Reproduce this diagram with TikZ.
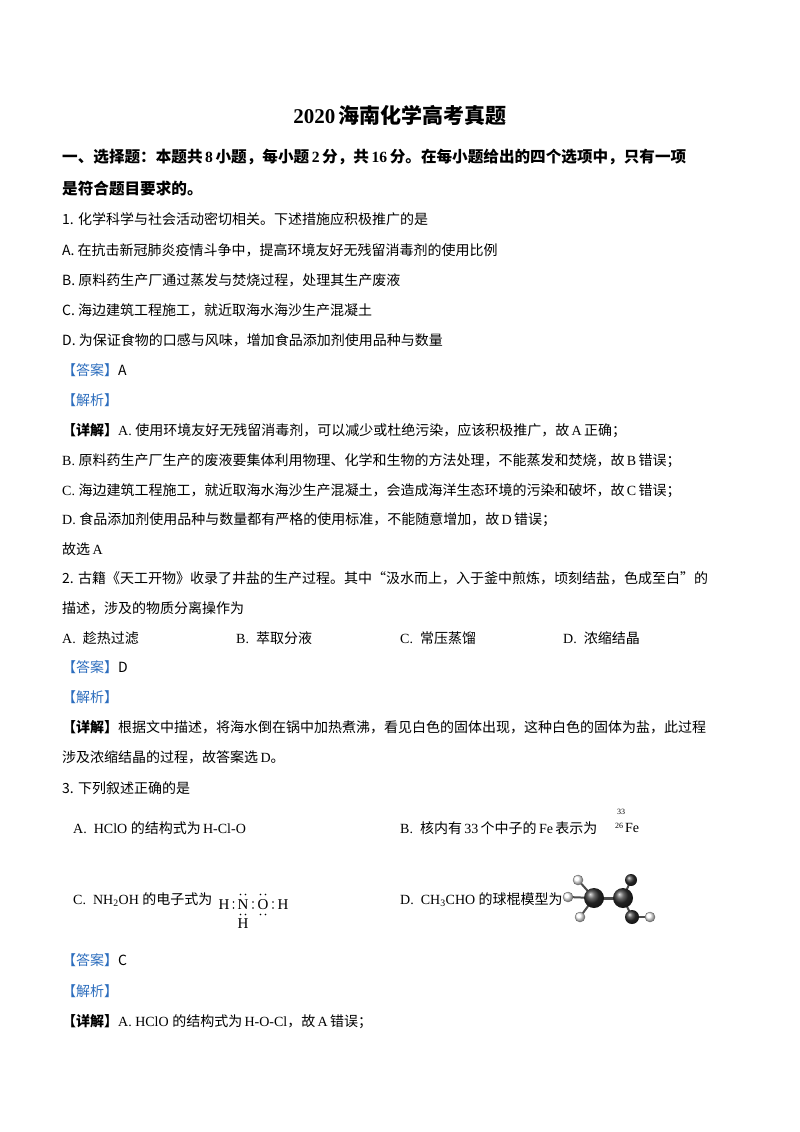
\documentclass[tikz,border=0pt]{standalone}
\usepackage{fontspec}
\setmainfont{Liberation Serif}
\newfontfamily\cjk{Noto Sans CJK SC}
\definecolor{ansblue}{RGB}{45,110,190}
\begin{document}
\begin{tikzpicture}[x=1pt,y=-1pt,
  txt/.style={anchor=west,inner sep=0pt,font=\fontsize{14}{16}\selectfont},
  blue/.style={text=ansblue},
  ball/.style={ball color=black!80,circle,inner sep=0pt},
  hball/.style={ball color=white,circle,inner sep=0pt,draw=black!60},
  el/.style={inner sep=0pt,font=\fontsize{15}{16}\selectfont},
  dot/.style={fill=black,circle,inner sep=0pt,minimum size=1.6pt}]
\useasboundingbox[fill=white] (0,0) rectangle (800,1132);
\node[inner sep=0pt,font=\fontsize{21}{24}\selectfont\bfseries] (title) at (400,115) {2020\,{\cjk 海南化学高考真题}};
\node[txt,font=\fontsize{15.6}{18}\selectfont\bfseries] (h1) at (62,157) {\cjk 一、选择题：本题共\,\rmfamily 8\,\cjk 小题，每小题\,\rmfamily 2\,\cjk 分，共\,\rmfamily 16\,\cjk 分。在每小题给出的四个选项中，只有一项};
\node[txt,font=\fontsize{15.6}{18}\selectfont\bfseries] (h2) at (62,189) {\cjk 是符合题目要求的。};
\node[txt] (q1) at (62,219) {\cjk 1. 化学科学与社会活动密切相关。下述措施应积极推广的是};
\node[txt] (q1a) at (62,250) {\cjk A. 在抗击新冠肺炎疫情斗争中，提高环境友好无残留消毒剂的使用比例};
\node[txt] (q1b) at (62,280) {\cjk B. 原料药生产厂通过蒸发与焚烧过程，处理其生产废液};
\node[txt] (q1c) at (62,310) {\cjk C. 海边建筑工程施工，就近取海水海沙生产混凝土};
\node[txt] (q1d) at (62,340) {\cjk D. 为保证食物的口感与风味，增加食品添加剂使用品种与数量};
\node[txt] (a1) at (62,370) {\cjk\textcolor{ansblue}{【答案】}A};
\node[txt,blue] (j1) at (62,400) {\cjk 【解析】};
\node[txt] (x1) at (62,431) {{\cjk\bfseries 【详解】}A. {\cjk 使用环境友好无残留消毒剂，可以减少或杜绝污染，应该积极推广，故}\,A\,{\cjk 正确；}};
\node[txt] (x1b) at (62,461) {B. {\cjk 原料药生产厂生产的废液要集体利用物理、化学和生物的方法处理，不能蒸发和焚烧，故}\,B\,{\cjk 错误；}};
\node[txt] (x1c) at (62,491) {C. {\cjk 海边建筑工程施工，就近取海水海沙生产混凝土，会造成海洋生态环境的污染和破坏，故}\,C\,{\cjk 错误；}};
\node[txt] (x1d) at (62,520) {D. {\cjk 食品添加剂使用品种与数量都有严格的使用标准，不能随意增加，故}\,D\,{\cjk 错误；}};
\node[txt] (g1) at (62,549) {{\cjk 故选}\,A};
\node[txt] (q2) at (62,578) {\cjk 2. 古籍《天工开物》收录了井盐的生产过程。其中“汲水而上，入于釜中煎炼，顷刻结盐，色成至白”的};
\node[txt] (q2b) at (62,608) {\cjk 描述，涉及的物质分离操作为};
\node[txt] (q2A) at (62,638) {A.\ \ {\cjk 趁热过滤}};
\node[txt] (q2B) at (236,638) {B.\ \ {\cjk 萃取分液}};
\node[txt] (q2C) at (400,638) {C.\ \ {\cjk 常压蒸馏}};
\node[txt] (q2D) at (563,638) {D.\ \ {\cjk 浓缩结晶}};
\node[txt] (a2) at (62,667) {\cjk\textcolor{ansblue}{【答案】}D};
\node[txt,blue] (j2) at (62,697) {\cjk 【解析】};
\node[txt] (x2) at (62,727) {{\cjk\bfseries 【详解】}{\cjk 根据文中描述，将海水倒在锅中加热煮沸，看见白色的固体出现，这种白色的固体为盐，此过程}};
\node[txt] (x2b) at (62,757) {{\cjk 涉及浓缩结晶的过程，故答案选}\,D{\cjk 。}};
\node[txt] (q3) at (62,788) {\cjk 3. 下列叙述正确的是};
\node[txt] (q3A) at (73,828) {A.\ \ HClO\ {\cjk 的结构式为}\,H-Cl-O};
\node[txt] (q3B) at (400,828) {B.\ \ {\cjk 核内有}\,33\,{\cjk 个中子的}\,Fe\,{\cjk 表示为}};
\node[inner sep=0pt,font=\fontsize{8}{9}\selectfont] (s33) at (621,812) {33};
\node[inner sep=0pt,font=\fontsize{8}{9}\selectfont] (s26) at (619,826) {26};
\node[txt] (fe) at (625,828) {Fe};
\node[txt] (q3C) at (73,900) {C.\ \ NH\textsubscript{2}OH\ {\cjk 的电子式为}};
% electron formula
\node[el] (eh1) at (224,905) {H};
\node[el] (en) at (243,905) {N};
\node[el] (eo) at (263,905) {O};
\node[el] (eh2) at (283,905) {H};
\node[el] (eh3) at (243,924) {H};
\foreach \x in {233.5,253,273} {\node[dot] at (\x,902) {}; \node[dot] at (\x,908) {};}
\node[dot] at (240.5,894.5) {}; \node[dot] at (245.5,894.5) {};
\node[dot] at (240.5,914.5) {}; \node[dot] at (245.5,914.5) {};
\node[dot] at (260.5,894.5) {}; \node[dot] at (265.5,894.5) {};
\node[dot] at (260.5,914.5) {}; \node[dot] at (265.5,914.5) {};
\node[txt] (q3D) at (400,900) {D.\ \ CH\textsubscript{3}CHO\ {\cjk 的球棍模型为}};
% ball and stick
\coordinate (c1) at (594,898);
\coordinate (c2) at (623,898);
\draw[line width=3pt,black!70] (c1)--(c2);
\draw[line width=2pt,black!70] (c1)--(578,880) (c1)--(568,897) (c1)--(580,917);
\draw[line width=2pt,black!70] (c2)--(631,880) (c2)--(632,917);
\draw[line width=2pt,black!70] (632,917)--(650,917);
\node[hball,minimum size=10pt] (h1b) at (578,880) {};
\node[hball,minimum size=10pt] (h2b) at (568,897) {};
\node[hball,minimum size=10pt] (h3b) at (580,917) {};
\node[hball,minimum size=10pt] (h4b) at (650,917) {};
\node[ball,minimum size=12pt] (ob) at (631,880) {};
\node[ball,minimum size=20pt] (c1b) at (c1) {};
\node[ball,minimum size=20pt] (c2b) at (c2) {};
\node[ball,minimum size=14pt] (c3b) at (632,917) {};
\node[txt] (a3) at (62,960) {\cjk\textcolor{ansblue}{【答案】}C};
\node[txt,blue] (j3) at (62,991) {\cjk 【解析】};
\node[txt] (x3) at (62,1022) {{\cjk\bfseries 【详解】}A. HClO\ {\cjk 的结构式为}\,H-O-Cl{\cjk ，故}\,A\,{\cjk 错误；}};
\end{tikzpicture}
\end{document}
